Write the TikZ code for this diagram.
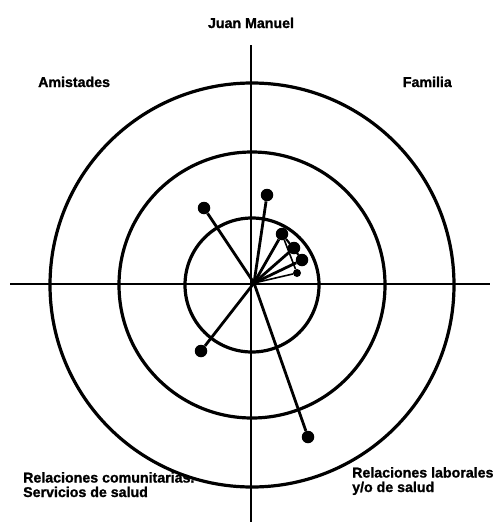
\documentclass[tikz,border=0pt]{standalone}
\usepackage{fontspec}
\setmainfont[FakeBold=1.2]{Liberation Sans}
\begin{document}
\begin{tikzpicture}[x=1pt,y=-1pt,
  ring/.style={line width=3.2pt},
  axis/.style={line width=2pt},
  spoke/.style={line width=2.8pt},
  thinspoke/.style={line width=1.6pt},
  tie/.style={circle,fill=black,inner sep=0pt,minimum size=12.5pt},
  smalltie/.style={circle,fill=black,inner sep=0pt,minimum size=8pt},
  lbl/.style={font=\bfseries\fontsize{14.2}{14.5}\selectfont,inner sep=0pt}]
\useasboundingbox (0,0) rectangle (493,522);
% axes
\coordinate (ytop) at (251,45);
\coordinate (ybot) at (251,522);
\coordinate (xl) at (10,284);
\coordinate (xr) at (490,284);
\draw[axis] (ytop) -- (ybot);
\draw[axis] (xl) -- (xr);
% rings
\coordinate (c) at (252,285);
\draw[ring] (c) circle[radius=202];
\draw[ring] (c) circle[radius=133];
\draw[ring] (c) circle[radius=67];
% ego
\coordinate (ego) at (254,283);
% ties
\node[tie] (a) at (204,208) {};
\node[tie] (b) at (267,195) {};
\node[tie] (d) at (201,351) {};
\node[tie] (e) at (308,437) {};
\node[tie] (f1) at (282,234) {};
\node[tie] (f2) at (294,248) {};
\node[tie] (f3) at (302,260) {};
\node[smalltie] (f4) at (297,273) {};
\draw[spoke] (ego) -- (a);
\draw[spoke] (ego) -- (b);
\draw[spoke] (ego) -- (d);
\draw[spoke] (ego) -- (e);
\draw[spoke] (ego) -- (f1);
\draw[spoke] (ego) -- (f2);
\draw[spoke] (ego) -- (f3);
\draw[thinspoke] (ego) -- (f4);
\draw[thinspoke] (f1) -- (f2);
\draw[thinspoke] (f2) -- (f3);
\draw[thinspoke] (f1) -- (f4);
\draw[thinspoke] (f1) -- (f3);
% labels
\node[lbl,anchor=base] (juan) at (251,28) {Juan Manuel};
\node[lbl,anchor=base west] (amis) at (38,87) {Amistades};
\node[lbl,anchor=base east] (fam) at (452,87) {Familia};
\node[lbl,anchor=base west,align=left] (com) at (23,497) {Relaciones comunitarias.\\Servicios de salud};
\node[lbl,anchor=base west,align=left] (lab) at (352,492) {Relaciones laborales\\y/o de salud};
\end{tikzpicture}
\end{document}
